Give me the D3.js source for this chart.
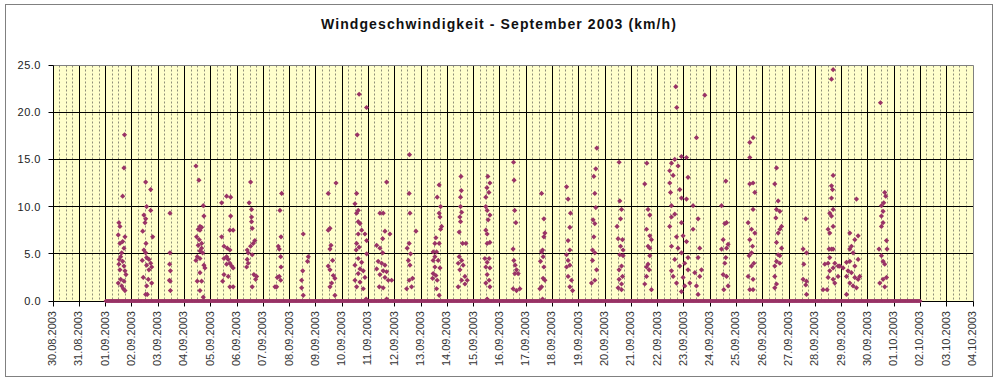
<!DOCTYPE html>
<html><head><meta charset="utf-8">
<script src="https://cdn.jsdelivr.net/npm/d3@7"></script>
<style>
body{margin:0;background:#fff}
svg{display:block}
text{font-family:Arial,"Liberation Sans",sans-serif}
</style>
</head><body>
<svg id="chart" width="1000" height="382"></svg>
<script>
// ---------- data ----------
const chartTitle = "Windgeschwindigkeit - September 2003 (km/h)";
const dayTickLabels = ["30.08.2003","31.08.2003","01.09.2003","02.09.2003","03.09.2003","04.09.2003","05.09.2003","06.09.2003","07.09.2003","08.09.2003","09.09.2003","10.09.2003","11.09.2003","12.09.2003","13.09.2003","14.09.2003","15.09.2003","16.09.2003","17.09.2003","18.09.2003","19.09.2003","20.09.2003","21.09.2003","22.09.2003","23.09.2003","24.09.2003","25.09.2003","26.09.2003","27.09.2003","28.09.2003","29.09.2003","30.09.2003","01.10.2003","02.10.2003","03.10.2003","04.10.2003"];
const valueTicks = [0, 5, 10, 15, 20, 25];

// logger: one reading every 30 minutes; readings not listed below were 0.0 km/h
const loggerStart = "2003-09-01T00:00:00Z";
const loggerEnd = "2003-10-02T00:00:00Z";
const loggerStepMinutes = 30;

// non-zero readings per day: [hour of day, km/h]
const sep01 = [[12.2,8.3],[13.1,7.9],[11.6,7.0],[17.7,6.8],[15.6,6.3],[13.1,6.1],[16.8,5.6],[14.7,5.1],[13.8,4.7],[12.5,4.4],[15.6,4.2],[12.2,3.9],[16.8,3.7],[13.1,3.3],[17.7,3.2],[18.6,2.8],[13.8,2.3],[16.8,2.1],[11.6,1.9],[14.7,1.6],[16.2,1.3],[17.7,1.1],[15.6,11.1],[16.8,14.1],[17.3,17.6]];
const sep02 = [[12.6,12.6],[17.2,11.8],[13.5,10.0],[17.2,9.6],[11.0,9.1],[12.6,8.7],[12.0,8.3],[9.9,7.4],[19.0,6.8],[12.9,6.1],[11.0,5.4],[12.6,5.1],[13.5,4.6],[9.5,4.3],[15.6,4.4],[17.2,4.0],[13.5,3.8],[18.1,3.6],[15.6,3.3],[10.4,2.5],[15.0,2.3],[18.1,1.9],[13.5,1.6],[12.6,0.7],[14.1,0.7]];
const sep03 = [[10.8,9.3],[10.8,5.1],[10.5,3.9],[11.2,3.2],[10.3,2.2],[11.0,2.1],[11.2,1.1]];
const sep04 = [[10.5,14.3],[13.2,12.8],[17.2,10.1],[17.8,9.0],[14.2,7.9],[15.7,7.8],[12.6,7.6],[14.2,7.5],[11.1,6.8],[13.5,6.5],[15.7,6.1],[12.6,5.9],[15.7,5.6],[14.2,5.3],[16.6,5.1],[11.7,4.7],[14.2,4.5],[10.5,4.3],[17.8,3.8],[18.7,3.5],[14.2,3.0],[11.7,2.1],[15.7,2.1],[14.2,1.1],[17.2,0.4]];
const sep05 = [[10.0,10.4],[14.5,11.1],[18.2,11.0],[18.2,9.0],[17.5,7.5],[20.5,7.5],[10.0,6.8],[12.1,5.8],[15.1,5.6],[17.5,5.4],[14.5,4.7],[12.1,4.5],[16.0,4.4],[17.5,4.0],[14.5,3.9],[19.1,3.7],[20.5,3.5],[12.1,2.8],[16.0,2.6],[10.9,2.1],[17.5,1.5],[20.5,1.5]];
const sep06 = [[12.4,12.6],[11.1,10.4],[13.3,9.7],[13.3,8.9],[13.3,8.4],[13.9,7.7],[16.3,6.4],[14.8,6.1],[12.4,5.8],[9.3,5.4],[10.2,5.1],[13.9,4.9],[9.3,4.4],[10.2,4.0],[8.8,3.6],[15.4,2.8],[17.9,2.6],[17.0,2.3],[13.9,1.5]];
const sep07 = [[16.8,11.4],[15.2,9.6],[16.2,6.8],[13.7,5.8],[14.6,5.5],[15.9,4.7],[16.2,3.6],[14.6,2.6],[12.8,2.5],[15.9,2.2],[10.7,1.5],[12.2,1.5]];
const sep08 = [[12.5,7.1],[17.1,4.7],[16.4,4.2],[12.0,3.2],[11.0,2.2],[11.0,1.4],[12.5,0.6]];
const sep09 = [[18.4,12.5],[11.3,11.4],[12.9,7.7],[11.3,7.5],[13.8,5.9],[12.9,5.5],[15.3,4.3],[11.3,3.7],[12.9,3.3],[15.9,2.7],[17.4,2.4],[14.4,1.9],[12.9,1.5],[17.4,0.6]];
const sep10 = [[13.2,11.4],[11.7,10.3],[14.7,9.6],[13.2,9.3],[14.7,8.4],[16.3,8.2],[17.8,7.5],[14.7,7.1],[20.8,7.1],[22.4,6.4],[13.2,6.1],[15.5,5.7],[12.8,5.4],[22.4,5.0],[14.7,4.5],[17.8,4.1],[11.7,3.8],[16.3,3.4],[19.3,3.2],[14.7,2.9],[20.8,2.5],[11.7,2.2],[16.3,2.0],[13.2,1.5],[19.3,1.3],[21.9,0.2],[13.8,17.6],[15.5,21.9],[22.3,20.5]];
const sep11 = [[16.6,12.6],[10.5,9.3],[13.5,9.3],[15.1,7.4],[19.6,7.1],[13.0,6.6],[7.5,5.9],[10.5,5.6],[13.0,5.1],[8.9,4.2],[12.1,4.0],[15.1,3.8],[7.5,3.4],[13.5,3.2],[16.6,3.1],[10.5,2.8],[15.1,2.5],[18.1,2.2],[9.9,1.5],[13.5,1.4],[16.6,0.2],[21.2,2.2]];
const sep12 = [[13.5,15.5],[13.2,11.4],[13.9,9.3],[19.4,7.4],[13.2,6.1],[11.4,5.6],[13.9,3.8],[16.3,2.4],[13.2,2.2],[10.9,1.3],[15.4,1.5],[12.5,4.3],[14.5,5.0]];
const sep13 = [[16.6,12.3],[14.8,11.0],[17.9,10.0],[16.6,9.3],[17.3,8.9],[18.8,7.9],[17.9,7.6],[13.6,6.7],[16.6,6.1],[12.7,6.1],[14.2,5.2],[11.1,5.2],[12.7,4.7],[11.1,4.3],[15.7,4.3],[12.7,3.6],[17.3,3.5],[11.1,2.9],[13.6,2.7],[14.8,2.2],[10.6,2.4],[14.2,1.3],[16.6,0.6]];
const sep14 = [[12.5,13.2],[12.8,11.7],[12.1,11.0],[12.1,10.0],[13.1,9.4],[11.5,8.9],[12.1,8.4],[10.9,7.3],[17.0,6.1],[14.0,6.1],[10.9,4.7],[13.1,4.3],[10.0,4.0],[14.5,3.8],[11.5,3.3],[16.1,2.6],[13.1,2.2],[10.0,1.5],[16.1,1.8],[18.2,2.2]];
const sep15 = [[13.0,13.2],[14.9,12.5],[12.2,12.0],[14.0,11.5],[11.2,11.0],[11.2,10.0],[12.4,9.6],[14.9,9.1],[13.3,8.6],[11.2,7.5],[12.4,7.1],[14.9,6.2],[12.4,6.1],[10.3,4.5],[14.2,4.5],[12.4,4.1],[11.2,3.6],[14.9,3.5],[12.4,2.8],[14.2,2.2],[11.2,1.9],[14.9,1.5],[12.4,0.2]];
const sep16 = [[12.5,14.7],[13.0,12.8],[14.6,8.3],[12.1,5.5],[15.2,3.3],[13.7,2.9],[16.7,2.9],[12.1,1.3],[15.2,1.1],[18.3,1.3],[13.5,9.6],[12.8,4.3],[14.0,3.8]];
const sep17 = [[14.1,11.4],[16.2,8.7],[17.1,7.2],[16.2,6.8],[15.0,5.4],[14.1,5.2],[15.5,4.7],[13.1,4.2],[16.2,3.6],[15.5,2.4],[17.1,2.2],[14.1,1.5],[12.5,1.3],[15.0,0.2]];
const sep18 = [[12.9,12.1],[14.3,10.8],[16.5,9.3],[15.9,7.8],[14.3,6.4],[15.9,5.4],[12.9,4.9],[14.3,4.3],[15.9,3.8],[12.9,3.6],[14.3,2.6],[17.4,2.2],[15.9,1.5],[18.4,1.1]];
const sep19 = [[16.5,16.2],[15.6,14.0],[13.8,13.2],[14.7,11.4],[13.1,8.6],[14.7,8.2],[12.6,5.4],[14.7,5.1],[12.6,4.3],[16.3,3.3],[14.7,2.2],[11.7,1.9],[13.8,6.8],[15.6,9.9]];
const sep20 = [[12.9,14.7],[13.5,10.6],[15.1,9.7],[14.2,8.7],[11.0,7.9],[12.0,6.6],[16.0,6.5],[14.2,5.8],[16.5,5.4],[13.5,4.9],[16.5,4.8],[15.1,3.7],[12.9,3.3],[16.0,2.6],[12.9,2.3],[15.1,1.8],[12.0,1.4],[15.1,1.2]];
const sep21 = [[14.2,14.6],[12.3,12.4],[15.3,9.7],[16.9,9.1],[13.9,7.6],[16.9,6.9],[18.4,6.5],[15.3,5.8],[16.9,5.6],[16.9,4.8],[15.3,3.9],[13.9,3.6],[16.3,3.3],[13.9,2.6],[12.3,1.8],[18.4,1.2]];
const sep22 = [[16.6,22.7],[17.5,20.5],[21.8,15.3],[15.7,15.0],[12.7,14.6],[18.7,14.3],[11.1,13.8],[14.2,13.3],[11.1,12.5],[20.3,11.8],[11.8,11.5],[21.8,10.9],[12.7,10.1],[15.7,9.2],[12.7,8.9],[21.8,8.3],[11.1,7.9],[17.3,6.8],[12.7,5.8],[18.7,5.6],[21.8,5.1],[15.7,4.4],[20.3,3.7],[12.7,3.2],[23.3,2.5],[17.3,1.9],[21.8,1.0],[14.2,2.6],[23.3,6.9]];
const sep23 = [[11.5,17.3],[19.1,21.8],[2.4,15.2],[3.8,13.1],[2.4,10.8],[8.4,10.1],[13.0,8.7],[8.4,7.6],[2.4,6.3],[14.5,5.6],[3.8,4.6],[13.0,4.6],[0.8,4.0],[3.8,3.3],[10.0,3.0],[5.4,1.9],[11.5,1.6],[13.0,0.7],[16.1,3.3],[14.5,2.6],[0.8,1.6]];
const sep24 = [[14.3,12.7],[10.4,10.1],[15.0,8.3],[13.4,8.2],[11.9,6.5],[16.4,6.0],[15.0,5.6],[10.4,5.5],[14.3,4.6],[13.4,4.0],[11.9,2.8],[15.0,2.6],[16.4,1.6],[12.5,1.2]];
const sep25 = [[12.2,16.8],[15.2,17.3],[12.2,15.2],[15.2,12.5],[12.2,12.4],[16.8,11.5],[15.2,9.7],[10.7,8.3],[13.8,7.6],[16.8,7.2],[12.2,6.5],[14.7,5.8],[13.8,5.1],[11.6,4.8],[15.9,4.0],[13.8,3.7],[10.7,2.6],[15.2,2.3],[12.2,1.2],[15.2,1.2]];
const sep26 = [[12.6,14.1],[11.0,12.4],[14.1,10.6],[12.6,9.7],[15.6,9.5],[12.0,8.8],[17.2,7.9],[15.6,7.6],[14.1,7.2],[12.6,6.2],[17.2,5.6],[14.1,4.9],[15.6,4.8],[12.6,4.2],[11.0,3.7],[15.6,4.0],[11.0,2.6],[12.6,1.8],[11.0,1.4]];
const sep27 = [[15.3,8.7],[12.9,5.5],[16.0,5.1],[13.5,3.9],[12.9,2.3],[16.0,2.1],[15.3,1.7],[16.0,0.7]];
const sep28 = [[16.3,24.5],[14.8,23.5],[16.3,13.3],[14.8,12.2],[15.7,11.8],[14.8,10.9],[16.3,9.7],[13.2,9.3],[14.8,9.0],[16.3,7.9],[11.7,7.6],[13.2,7.2],[14.8,5.5],[12.6,5.5],[16.3,5.5],[13.2,4.6],[11.7,4.0],[17.8,4.0],[8.7,3.9],[16.3,3.5],[20.8,3.7],[13.2,3.2],[11.7,2.5],[16.3,2.3],[7.1,1.2],[10.8,1.2],[17.8,1.9],[20.8,2.6],[22.3,3.7]];
const sep29 = [[13.6,10.8],[7.5,7.2],[15.1,6.9],[12.1,6.5],[9.0,5.8],[7.5,5.5],[10.5,5.1],[15.1,4.4],[7.5,4.2],[4.5,4.1],[12.1,3.7],[1.4,3.5],[5.9,3.2],[9.0,3.0],[4.5,2.6],[12.1,2.5],[15.1,2.3],[7.5,1.9],[10.5,1.6],[13.6,1.4],[4.5,0.7],[16.6,2.6]];
const sep30 = [[11.5,21.0],[15.4,11.5],[16.3,11.1],[14.5,10.4],[12.4,10.1],[13.9,9.5],[12.4,9.0],[13.9,8.3],[12.4,7.9],[17.0,6.4],[10.2,5.5],[17.5,5.5],[12.4,4.8],[13.9,4.2],[15.4,3.9],[17.0,2.5],[13.9,2.3],[10.9,1.9],[15.4,1.5]];
const oct01 = [];

const dailyReadings = [
  ["2003-09-01", sep01], ["2003-09-02", sep02], ["2003-09-03", sep03], ["2003-09-04", sep04],
  ["2003-09-05", sep05], ["2003-09-06", sep06], ["2003-09-07", sep07], ["2003-09-08", sep08],
  ["2003-09-09", sep09], ["2003-09-10", sep10], ["2003-09-11", sep11], ["2003-09-12", sep12],
  ["2003-09-13", sep13], ["2003-09-14", sep14], ["2003-09-15", sep15], ["2003-09-16", sep16],
  ["2003-09-17", sep17], ["2003-09-18", sep18], ["2003-09-19", sep19], ["2003-09-20", sep20],
  ["2003-09-21", sep21], ["2003-09-22", sep22], ["2003-09-23", sep23], ["2003-09-24", sep24],
  ["2003-09-25", sep25], ["2003-09-26", sep26], ["2003-09-27", sep27], ["2003-09-28", sep28],
  ["2003-09-29", sep29], ["2003-09-30", sep30], ["2003-10-01", oct01]
];

// ---------- build ----------
const parseLabel = s => { const [d, m, y] = s.split(".").map(Number); return new Date(Date.UTC(y, m - 1, d)); };
const tickDates = dayTickLabels.map(parseLabel);

const points = [];
dailyReadings.forEach(([day, list]) => {
  const base = new Date(day + "T00:00:00Z");
  list.forEach(([h, v]) => points.push({ t: new Date(base.getTime() + h * 3600e3), v }));
});
const calmTimes = d3.utcMinute.every(loggerStepMinutes).range(new Date(loggerStart), new Date(new Date(loggerEnd).getTime() + 1));
const calm = calmTimes.map(t => ({ t, v: 0 }));

const svg = d3.select("#chart");
const L = 53, R = 973, T = 65, B = 301;

const x = d3.scaleUtc().domain([tickDates[0], tickDates[tickDates.length - 1]]).range([L, R]);
const y = d3.scaleLinear().domain([0, 25]).range([B, T]);
const px = v => Math.floor(v) + 0.5;

// outer frame
svg.append("rect").attr("x", 5.5).attr("y", 4.5).attr("width", 987).attr("height", 372)
  .attr("fill", "#fff").attr("stroke", "#808080").attr("stroke-width", 1);

// title
svg.append("text").attr("x", 499).attr("y", 29).attr("text-anchor", "middle")
  .attr("font-size", 14).attr("font-weight", "bold").attr("letter-spacing", "1.1px")
  .attr("fill", "#111").text(chartTitle);

// plot background
svg.append("rect").attr("x", px(L)).attr("y", px(y(25))).attr("width", px(R) - px(L)).attr("height", px(y(0)) - px(y(25)))
  .attr("fill", "#FFFFCC");

// minor dotted verticals (every 6 h)
const minor = [];
tickDates.slice(0, -1).forEach(d => [6, 12, 18].forEach(h => minor.push(new Date(d.getTime() + h * 3600e3))));
svg.append("g").selectAll("line").data(minor).join("line")
  .attr("x1", d => px(x(d))).attr("x2", d => px(x(d)))
  .attr("y1", px(y(25))).attr("y2", px(y(0)))
  .attr("stroke", "#8f8f78").attr("stroke-width", 1).attr("stroke-dasharray", "2,2");

// major verticals
svg.append("g").selectAll("line").data(tickDates.slice(1, -1)).join("line")
  .attr("x1", d => px(x(d))).attr("x2", d => px(x(d)))
  .attr("y1", px(y(25))).attr("y2", px(y(0)))
  .attr("stroke", "#000").attr("stroke-width", 1);

// horizontal gridlines
svg.append("g").selectAll("line").data(valueTicks.filter(v => v > 0 && v < 25)).join("line")
  .attr("x1", px(L)).attr("x2", px(R)).attr("y1", d => px(y(d))).attr("y2", d => px(y(d)))
  .attr("stroke", "#000").attr("stroke-width", 1);

// plot border (grey) top & right
svg.append("path").attr("d", `M${px(L)},${px(y(25))}H${px(R)}V${px(y(0))}`)
  .attr("fill", "none").attr("stroke", "#808080");

// axes lines
svg.append("line").attr("x1", px(L)).attr("x2", px(L)).attr("y1", px(y(25))).attr("y2", px(y(0))).attr("stroke", "#000");
svg.append("line").attr("x1", px(L)).attr("x2", px(R)).attr("y1", px(y(0))).attr("y2", px(y(0))).attr("stroke", "#000");

// y ticks & labels
const yg = svg.append("g");
yg.selectAll("line").data(valueTicks).join("line")
  .attr("x1", px(L) - 5).attr("x2", px(L)).attr("y1", d => px(y(d))).attr("y2", d => px(y(d))).attr("stroke", "#000");
yg.selectAll("text").data(valueTicks).join("text")
  .attr("x", 41).attr("y", d => y(d) + 4).attr("text-anchor", "end")
  .attr("font-size", 11).attr("letter-spacing", "0.5px").attr("fill", "#222")
  .text(d3.format(".1f"));

// x ticks & labels
const xg = svg.append("g");
xg.selectAll("line").data(tickDates).join("line")
  .attr("x1", d => px(x(d))).attr("x2", d => px(x(d))).attr("y1", px(y(0))).attr("y2", px(y(0)) + 5).attr("stroke", "#000");
xg.selectAll("text").data(tickDates).join("text")
  .attr("transform", d => `translate(${x(d) + 3},311) rotate(-90)`)
  .attr("text-anchor", "end").attr("font-size", 11).attr("fill", "#333")
  .text((d, i) => dayTickLabels[i]);

// markers
const calmDiamond = "M0,-2L2,0L0,2L-2,0Z";
const windDiamond = "M0,-2.6L2.6,0L0,2.6L-2.6,0Z";
const mg = svg.append("g").attr("fill", "#993366");
mg.selectAll("path.calm").data(calm).join("path").attr("class", "calm")
  .attr("d", calmDiamond).attr("transform", d => `translate(${x(d.t)},${y(d.v)})`);
mg.selectAll("path.wind").data(points).join("path").attr("class", "wind")
  .attr("d", windDiamond).attr("transform", d => `translate(${x(d.t)},${y(d.v)})`);
</script>
</body></html>
